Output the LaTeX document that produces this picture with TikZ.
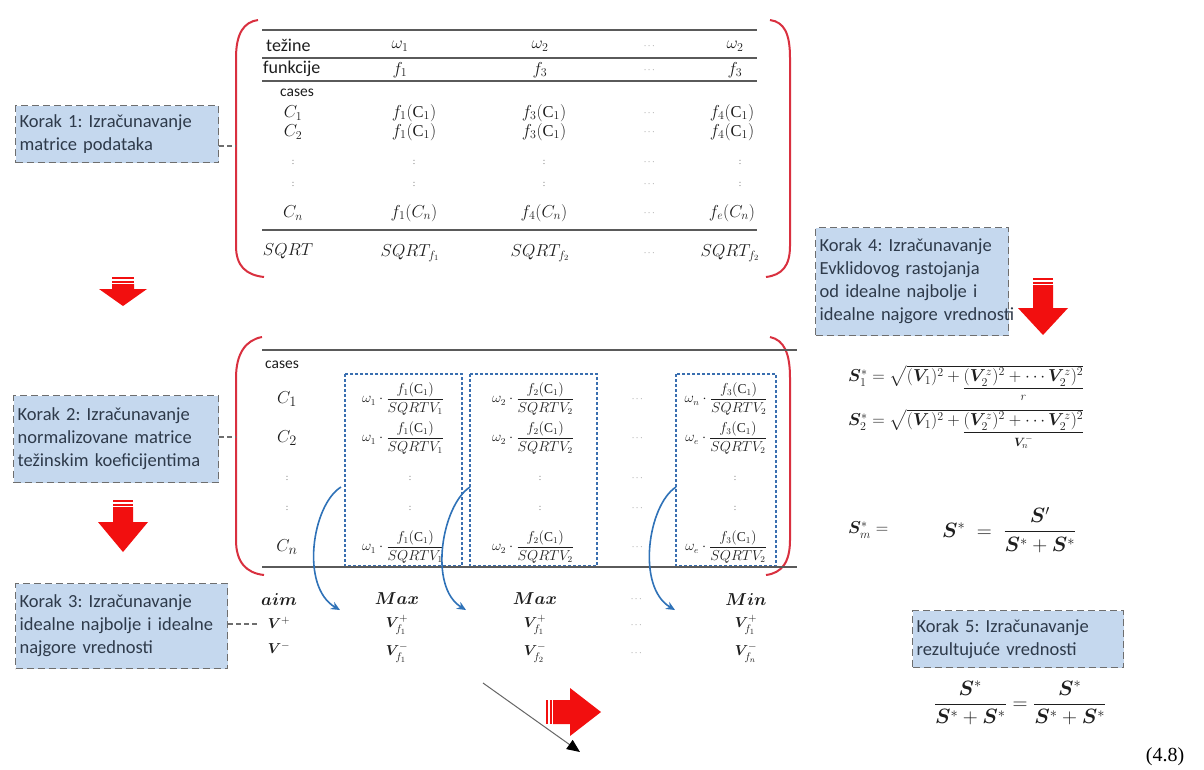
\documentclass[tikz,border=0pt]{standalone}
\usepackage{amsmath}
\usepackage{bm}
\usepackage{fontspec}
\setmainfont{Liberation Serif}
\newfontfamily\sff{Carlito}
\usetikzlibrary{arrows.meta}
\definecolor{boxblue}{HTML}{C5D8EE}
\definecolor{boxedge}{HTML}{6E6E6E}
\definecolor{brred}{HTML}{D9303F}
\definecolor{arrred}{HTML}{F20F0F}
\definecolor{dblue}{HTML}{3A6FB0}
\definecolor{cblue}{HTML}{2F72B8}
\definecolor{ink}{HTML}{1E1E1E}
\definecolor{boxink}{HTML}{2E3A4A}
\definecolor{rulegray}{HTML}{5A5A5A}
\newcommand\rdown[6]{%
  \fill[arrred] (#1-#5,#2) rectangle (#1+#5,#2+2);
  \fill[arrred] (#1-#5,#2+3.5) rectangle (#1+#5,#2+5.5);
  \fill[arrred] (#1-#5,#2+7) -- (#1+#5,#2+7) -- (#1+#5,#3) -- (#1+#6,#3) -- (#1,#4) -- (#1-#6,#3) -- (#1-#5,#3) -- cycle;}
\tikzset{
  stepbox/.style={draw=boxedge, fill=boxblue, dash pattern=on 7pt off 4pt, line width=1.3pt,
    text=boxink, font=\sff\fontsize{18.5}{23}\selectfont, align=left, anchor=north west,
    inner xsep=4pt, inner ysep=3pt},
  lbl/.style={font=\sff\fontsize{18}{20}\selectfont, text=ink, anchor=west, inner sep=0pt},
  slbl/.style={font=\sff\fontsize{15.5}{18}\selectfont, text=ink, anchor=west, inner sep=0pt},
  m/.style={font=\fontsize{16.5}{19}\selectfont, text=ink, inner sep=0pt},
  vm/.style={font=\fontsize{15.5}{18}\selectfont, text=ink, inner sep=0pt},
  clab/.style={font=\fontsize{19}{22}\selectfont, text=ink, inner sep=0pt},
  fm/.style={font=\fontsize{13.5}{16}\selectfont, text=ink, inner sep=0pt},
  dt/.style={font=\fontsize{9}{10}\selectfont, text=ink!70, inner sep=0pt},
  bracket/.style={draw=brred, line width=2pt},
  hrule/.style={draw=rulegray, line width=2.4pt},
  thinrule/.style={draw=rulegray, line width=1.2pt},
  colbox/.style={draw=dblue, dash pattern=on 3pt off 2pt, line width=1.3pt},
  curvarr/.style={draw=cblue, line width=1.6pt, -{Stealth[length=9pt,width=8pt]}},
  link/.style={draw=boxedge, line width=1.2pt, dash pattern=on 5pt off 3pt},
  bigm/.style={font=\fontsize{18}{21}\selectfont, text=ink, inner sep=0pt},
}
\begin{document}
\frenchspacing
\begin{tikzpicture}[x=1pt,y=-1pt]
\useasboundingbox (0,0) rectangle (1204,769);
\fill[white] (0,0) rectangle (1204,769);

% ---------- step boxes ----------
\node[stepbox, minimum width=203pt, minimum height=57pt, text width=195pt] (s1) at (15,105)
  {Korak 1: Izračunavanje\\matrice podataka};
\node[stepbox, minimum width=205pt, minimum height=87pt, text width=197pt] (s2) at (13,395)
  {Korak 2: Izračunavanje\\normalizovane matrice\\težinskim koeficijentima};
\node[stepbox, minimum width=212pt, minimum height=85pt, text width=204pt] (s3) at (15,583)
  {Korak 3: Izračunavanje\\idealne najbolje i idealne\\najgore vrednosti};
\node[stepbox, minimum width=193pt, minimum height=108pt, text width=185pt] (s4) at (815,227)
  {Korak 4: Izračunavanje\\Evklidovog rastojanja\\od idealne najbolje i\\\mbox{idealne najgore vrednosti}};
\node[stepbox, minimum width=211pt, minimum height=57pt, text width=203pt] (s5) at (912,610)
  {Korak 5: Izračunavanje\\rezultujuće vrednosti};

% ---------- red block arrows ----------
\rdown{123}{277}{289}{306}{11}{24}
\rdown{123}{500}{522}{552}{10}{25}
\rdown{1043}{278}{308}{335}{10}{25}
\fill[arrred] (546,700) rectangle (548,724);
\fill[arrred] (549.5,700) rectangle (551.5,724);
\fill[arrred] (553,700) -- (570,700) -- (570,688) -- (601,712) -- (570,736) -- (570,724) -- (553,724) -- cycle;

% ---------- top matrix ----------
\draw[bracket] (258,20) .. controls (244,22) and (236,33) .. (236,58) -- (236,246)
  .. controls (236,266) and (246,275) .. (264,277);
\draw[bracket] (770,20) .. controls (784,22) and (790,33) .. (790,58) -- (790,246)
  .. controls (790,266) and (782,275) .. (766,277);
\draw[hrule] (262,30) -- (757,30);
\draw[thinrule] (262,58) -- (757,58);
\draw[thinrule] (262,81) -- (757,81);
\draw[hrule] (262,230) -- (757,230);

\node[lbl] (a0) at (266,45) {težine};
\node[m] (a1) at (400,46) {$\omega_1$};
\node[m] (a2) at (540,46) {$\omega_2$};
\node[dt] (a3) at (650,46) {$\cdots$};
\node[m] (a4) at (735,46) {$\omega_2$};

\node[lbl] (b0) at (263,69) {funkcije};
\node[m] (b1) at (400,70) {$f_1$};
\node[m] (b2) at (540,70) {$f_3$};
\node[dt] (b3) at (650,70) {$\cdots$};
\node[m] (b4) at (735,70) {$f_3$};

\node[slbl] (c0) at (280,93) {cases};

\node[m] (d0) at (293,113) {$C_1$};
\node[m] (d1) at (414,113) {$f_1(\mathrm{C}_1)$};
\node[m] (d2) at (544,113) {$f_3(\mathrm{C}_1)$};
\node[dt] (d3) at (650,113) {$\cdots$};
\node[m] (d4) at (732,113) {$f_4(\mathrm{C}_1)$};

\node[m] (e0) at (293,132) {$C_2$};
\node[m] (e1) at (414,132) {$f_1(\mathrm{C}_1)$};
\node[m] (e2) at (544,132) {$f_3(\mathrm{C}_1)$};
\node[dt] (e3) at (650,132) {$\cdots$};
\node[m] (e4) at (732,132) {$f_4(\mathrm{C}_1)$};

\node[dt] (f0) at (293,162) {:};
\node[dt] (f1) at (414,162) {:};
\node[dt] (f2) at (544,162) {:};
\node[dt] (f3) at (650,162) {$\cdots$};
\node[dt] (f4) at (740,162) {:};
\node[dt] (g0) at (293,184) {:};
\node[dt] (g1) at (414,184) {:};
\node[dt] (g2) at (544,184) {:};
\node[dt] (g3) at (650,184) {$\cdots$};
\node[dt] (g4) at (740,184) {:};

\node[m] (h0) at (293,213) {$C_n$};
\node[m] (h1) at (414,213) {$f_1(C_n)$};
\node[m] (h2) at (544,213) {$f_4(C_n)$};
\node[dt] (h3) at (650,213) {$\cdots$};
\node[m] (h4) at (732,213) {$f_e(C_n)$};

\node[m] (i0) at (288,251) {$SQRT$};
\node[m] (i1) at (410,253) {$SQRT_{f_1}$};
\node[m] (i2) at (540,253) {$SQRT_{f_2}$};
\node[dt] (i3) at (650,253) {$\cdots$};
\node[m] (i4) at (730,253) {$SQRT_{f_2}$};

% ---------- second matrix ----------
\draw[bracket] (262,337) .. controls (246,340) and (236,353) .. (236,378) -- (236,540)
  .. controls (236,562) and (246,573) .. (264,575);
\draw[bracket] (770,337) .. controls (784,340) and (790,353) .. (790,378) -- (790,540)
  .. controls (790,562) and (782,573) .. (766,575);
\draw[hrule] (262,350) -- (797,350);
\draw[colbox] (345,374) rectangle (462,566);
\draw[colbox] (470,374) rectangle (597,566);
\draw[colbox] (676,374) rectangle (776,566);
\draw[hrule] (262,567) -- (797,567);

\node[slbl] (p0) at (265,365) {cases};

\node[clab] (q0) at (287,399) {$C_1$};
\node[fm] (q1) at (403,399) {$\omega_1\cdot\dfrac{f_1(\mathrm{C}_1)}{SQRTV_1}$};
\node[fm] (q2) at (533,399) {$\omega_2\cdot\dfrac{f_2(\mathrm{C}_1)}{SQRTV_2}$};
\node[dt] (q3) at (638,399) {$\cdots$};
\node[fm] (q4) at (726,399) {$\omega_n\cdot\dfrac{f_3(\mathrm{C}_1)}{SQRTV_2}$};

\node[clab] (r0) at (287,438) {$C_2$};
\node[fm] (r1) at (403,438) {$\omega_1\cdot\dfrac{f_1(\mathrm{C}_1)}{SQRTV_1}$};
\node[fm] (r2) at (533,438) {$\omega_2\cdot\dfrac{f_2(\mathrm{C}_1)}{SQRTV_2}$};
\node[dt] (r3) at (638,438) {$\cdots$};
\node[fm] (r4) at (726,438) {$\omega_e\cdot\dfrac{f_3(\mathrm{C}_1)}{SQRTV_2}$};

\node[dt] (u0) at (287,478) {:};
\node[dt] (u1) at (410,478) {:};
\node[dt] (u2) at (540,478) {:};
\node[dt] (u3) at (638,478) {$\cdots$};
\node[dt] (u4) at (735,478) {:};
\node[dt] (v0) at (287,508) {:};
\node[dt] (v1) at (410,508) {:};
\node[dt] (v2) at (540,508) {:};
\node[dt] (v3) at (638,508) {$\cdots$};
\node[dt] (v4) at (735,508) {:};

\node[clab] (w0) at (287,547) {$C_n$};
\node[fm] (w1) at (403,547) {$\omega_1\cdot\dfrac{f_1(\mathrm{C}_1)}{SQRTV_1}$};
\node[fm] (w2) at (533,547) {$\omega_2\cdot\dfrac{f_2(\mathrm{C}_1)}{SQRTV_2}$};
\node[dt] (w3) at (638,547) {$\cdots$};
\node[fm] (w4) at (726,547) {$\omega_e\cdot\dfrac{f_3(\mathrm{C}_1)}{SQRTV_2}$};

% curved blue arrows
\coordinate (c1s) at (341,487); \coordinate (c1e) at (340,610);
\coordinate (c2s) at (470,487); \coordinate (c2e) at (466,610);
\coordinate (c3s) at (676,487); \coordinate (c3e) at (675,610);
\draw[curvarr] (c1s) .. controls (312,505) and (300,587) .. (c1e);
\draw[curvarr] (c2s) .. controls (442,505) and (428,587) .. (c2e);
\draw[curvarr] (c3s) .. controls (648,505) and (636,587) .. (c3e);

% aim rows
\node[m] (x0) at (279,599) {$\bm{aim}$};
\node[m] (x1) at (397,599) {$\bm{Max}$};
\node[m] (x2) at (535,599) {$\bm{Max}$};
\node[dt] (x3) at (637,599) {$\cdots$};
\node[m] (x4) at (746,599) {$\bm{Min}$};
\node[vm] (y0) at (279,623) {$\bm{V}^{+}$};
\node[vm] (y1) at (397,625) {$\bm{V}_{f_1}^{+}$};
\node[vm] (y2) at (535,625) {$\bm{V}_{f_1}^{+}$};
\node[dt] (y3) at (637,625) {$\cdots$};
\node[vm] (y4) at (746,625) {$\bm{V}_{f_1}^{+}$};
\node[vm] (z0) at (279,648) {$\bm{V}^{-}$};
\node[vm] (z1) at (397,653) {$\bm{V}_{f_1}^{-}$};
\node[vm] (z2) at (535,653) {$\bm{V}_{f_2}^{-}$};
\node[dt] (z3) at (637,653) {$\cdots$};
\node[vm] (z4) at (746,653) {$\bm{V}_{f_n}^{-}$};

% links from step boxes
\coordinate (l1) at (236,146);
\coordinate (l2) at (236,437);
\coordinate (l3) at (257,624);
\draw[link] (s1.east |- l1) -- (l1);
\draw[link] (s2.east |- l2) -- (l2);
\draw[link] (s3.east |- l3) -- (l3);

% black thin arrow
\coordinate (k1) at (483,683); \coordinate (k2) at (580,752);
\draw[draw=gray!80!black, line width=1pt, -{Triangle[length=13pt,width=11pt,color=black]}] (k1) -- (k2);

% ---------- right formulas ----------
\node[bigm, anchor=west] (sf1) at (848,376)
  {$\bm{S}_1^{*} = \sqrt{(\bm{V}_1)^2 + \smash[b]{\underset{r}{\underline{(\bm{V}_2^{z})^2+\cdots\bm{V}_2^{z})^2}}}}$};
\node[bigm, anchor=west] (sf2) at (848,420)
  {$\bm{S}_2^{*} = \sqrt{(\bm{V}_1)^2 + \smash[b]{\underset{\bm{V}_n^{-}}{\underline{(\bm{V}_2^{z})^2+\cdots\bm{V}_2^{z})^2}}}}$};
\node[bigm, anchor=west] (sf3) at (848,530) {$\bm{S}_m^{*} =$};
\node[font=\fontsize{22}{26}\selectfont, text=ink, inner sep=0pt, anchor=west] (sf4) at (942,530)
  {$\bm{S}^{*} \;=\; \dfrac{\bm{S}'}{\bm{S}^{*}+\bm{S}^{*}}$};
\node[font=\fontsize{20}{24}\selectfont, text=ink, inner sep=0pt] (sf5) at (1020,703)
  {$\dfrac{\bm{S}^{*}}{\bm{S}^{*}+\bm{S}^{*}} = \dfrac{\bm{S}^{*}}{\bm{S}^{*}+\bm{S}^{*}}$};
\node[font=\fontsize{20}{24}\selectfont, inner sep=0pt] (eqn) at (1165,757) {(4.8)};
\end{tikzpicture}
\end{document}
